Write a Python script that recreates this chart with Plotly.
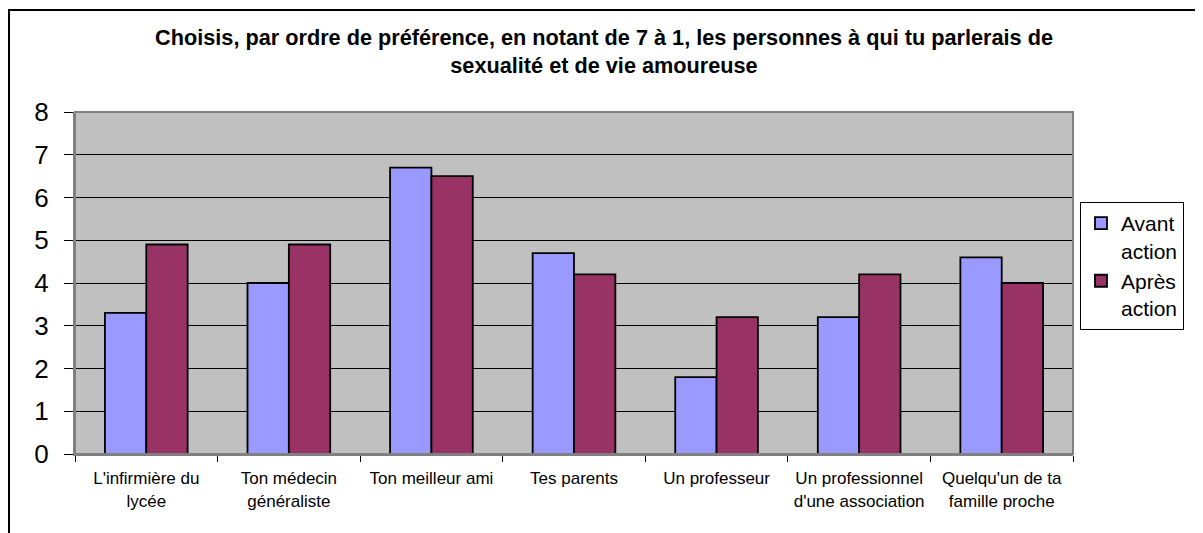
import plotly.graph_objects as go

# Data
categories = ["L'infirmière du<br>lycée", "Ton médecin<br>généraliste", "Ton meilleur ami", "Tes parents",
              "Un professeur", "Un professionnel<br>d'une association", "Quelqu'un de ta<br>famille proche"]
avant = [3.3, 4.0, 6.7, 4.7, 1.8, 3.2, 4.6]
apres = [4.9, 4.9, 6.5, 4.2, 3.2, 4.2, 4.0]
y_ticks = [0, 1, 2, 3, 4, 5, 6, 7, 8]

title = ("<b>Choisis, par ordre de préférence, en notant de 7 à 1, les personnes à qui tu parlerais de<br>"
         "sexualité et de vie amoureuse</b>")

W, H = 1195, 525
L, R, T, B = 67, 130, 104, 79

fig = go.Figure()
fig.add_trace(go.Bar(x=categories, y=avant, name="Avant<br>action",
                     marker=dict(color="#9999FF", line=dict(color="black", width=1.8))))
fig.add_trace(go.Bar(x=categories, y=apres, name="Après<br>action",
                     marker=dict(color="#993366", line=dict(color="black", width=1.8))))

fig.update_layout(
    width=W, height=H,
    margin=dict(l=L, r=R, t=T, b=B, autoexpand=False),
    paper_bgcolor="white", plot_bgcolor="#C0C0C0",
    font=dict(family="Liberation Sans, Arial, sans-serif", color="black"),
    title=dict(text=title, x=596 / W, xanchor="center", xref="container",
               y=1 - 37 / H, yanchor="top", yref="container",
               font=dict(size=21.7, color="black")),
    barmode="group", bargap=0.42, bargroupgap=0,
    legend=dict(x=1.007, xanchor="left", y=1 - 90 / 342, yanchor="top", valign="top",
                bordercolor="black", borderwidth=1, bgcolor="white",
                font=dict(size=21), tracegroupgap=0, itemwidth=30),
    showlegend=True,
)
fig.update_yaxes(range=[0, 8], tickvals=y_ticks, tickfont=dict(size=26),
                 showgrid=True, gridcolor="black", gridwidth=1,
                 showline=True, linecolor="#808080", linewidth=2, mirror=False,
                 ticks="outside", ticklen=9, tickcolor="black", zeroline=False,
                 ticklabelstandoff=10)
fig.update_xaxes(tickfont=dict(size=17), showline=True, linecolor="#808080", linewidth=2,
                 ticks="outside", tickson="boundaries", ticklen=6, tickcolor="black",
                 ticklabelstandoff=8)

# plot area border
fig.add_shape(type="rect", xref="paper", yref="paper", x0=0, y0=0, x1=1, y1=1,
              line=dict(color="#808080", width=2), layer="above")
# outer chart border: top and left edges (right and bottom fall outside the picture)
pw = W - L - R
ph = H - T - B
bx = (-L + 1) / pw
by = 1 + (T - 2) / ph
fig.add_shape(type="path", xref="paper", yref="paper",
              path=f"M {bx},-0.4 L {bx},{by} L {(W - L) / pw},{by}",
              line=dict(color="black", width=2))

fig.write_html("out.html")
